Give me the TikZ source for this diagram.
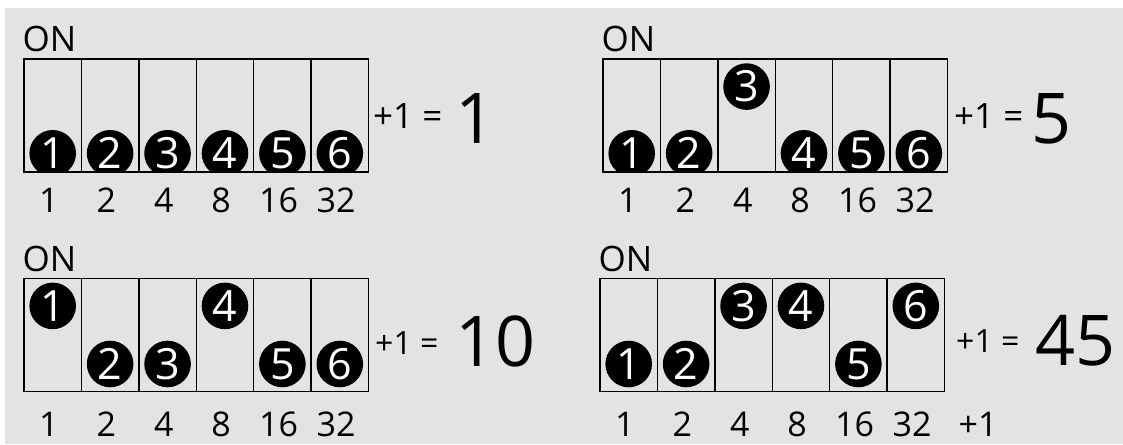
\documentclass[tikz,border=0pt]{standalone}
\usepackage{fontspec}
\setmainfont{Open Sans}
\definecolor{bg}{HTML}{E3E3E3}
\tikzset{
  box/.style={draw=black, line width=1.4pt},
  knob/.style={circle, fill=black, minimum size=46.6pt, inner sep=0pt, text=white, font=\fontsize{43}{43}\selectfont},
  wlbl/.style={font=\fontsize{34}{34}\selectfont, anchor=base, inner sep=0pt},
  onlbl/.style={font=\fontsize{35}{35}\selectfont, anchor=base west, inner sep=0pt},
  plusA/.style={font=\fontsize{35}{35}\selectfont, anchor=base west, inner sep=0pt},
  plusB/.style={font=\fontsize{32}{32}\selectfont, anchor=base west, inner sep=0pt},
  bignum/.style={font=\fontsize{70}{70}\selectfont, anchor=base west, inner sep=0pt},
}
% #1 name, #2 x0, #3 y0, #4 bottom knob offset, #5 states (1 = up), #6 label baseline offset
\newcommand\dippanel[6]{%
  \begin{scope}
    \clip (#2,#3) rectangle ++(344.5,113);
    \foreach \s [count=\i] in {#5} {
      \pgfmathsetmacro\cx{#2+(\i-0.5)*57.42}
      \pgfmathsetmacro\cy{#3+#4+\s*(27.6-#4)}
      \node[knob] (#1k\i) at (\cx,\cy) {\i};
    }
  \end{scope}
  \draw[box] (#2,#3) rectangle ++(344.5,113);
  \foreach \i in {1,...,5} {
    \coordinate (#1t\i) at (#2+\i*57.42,#3);
    \coordinate (#1b\i) at (#2+\i*57.42,#3+113);
    \draw[box] (#1t\i) -- (#1b\i);
  }
  \node[onlbl] (#1on) at (#2-1.5,#3-7) {ON};
  \foreach \w [count=\i] in {1,2,4,8,16,32} {
    \node[wlbl] (#1w\i) at (#2+\i*57.42-32.5,#3+113+#6) {\w};
  }
}
\begin{document}
\begin{tikzpicture}[x=1pt,y=-1pt]
\useasboundingbox (0,0) rectangle (1123,444);
\fill[white] (0,0) rectangle (1123,444);
\fill[bg] (5,8) rectangle (1123,444);

\dippanel{a}{24}{59}{94.3}{0,0,0,0,0,0}{40.5}
\dippanel{b}{603}{59}{94.3}{0,0,1,0,0,0}{40.5}
\dippanel{c}{24}{278.3}{85.7}{1,0,0,1,0,0}{45}
\dippanel{d}{600}{278.3}{85.7}{0,0,1,1,0,1}{45}

\node[wlbl] (dw7) at (978,436) {+1};

\node[plusA] (ap) at (373,128) {+1 =};
\node[bignum] (an) at (455,143) {1};
\node[plusA] (bp) at (954,128) {+1 =};
\node[bignum] (bn) at (1031,143) {5};
\node[plusB] (cp) at (375,354) {+1 =};
\node[bignum] (cn) at (455,366) {10};
\node[plusB] (dp) at (956,352) {+1 =};
\node[bignum] (dn) at (1035,365) {45};
\end{tikzpicture}
\end{document}
